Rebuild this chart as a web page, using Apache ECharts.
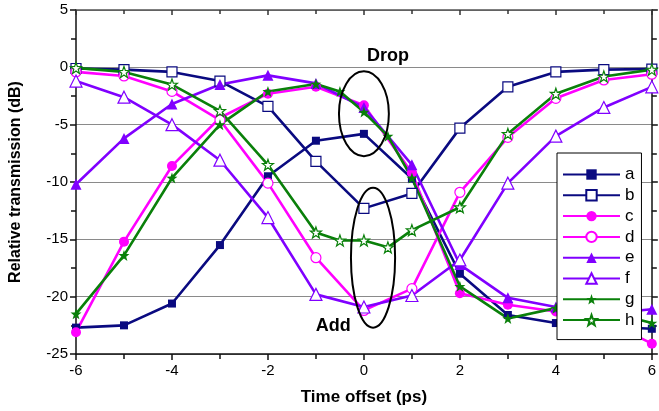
<!DOCTYPE html>
<html>
<head>
<meta charset="utf-8">
<script src="https://cdn.jsdelivr.net/npm/echarts@6/dist/echarts.min.js"></script>
<style>html,body{margin:0;padding:0;background:#fff}#c{width:659px;height:411px}</style>
</head>
<body>
<div id="c"></div>
<script>
// ---- data ----
var xs = [-6, -5, -4, -3, -2, -1, 0, 1, 2, 3, 4, 5, 6];
var xsFine = [-6, -5, -4, -3, -2, -1, -0.5, 0, 0.5, 1, 2, 3, 4, 5, 6];
var seriesNames = ['a', 'b', 'c', 'd', 'e', 'f', 'g', 'h'];
var aVals = [-22.7, -22.5, -20.6, -15.5, -9.5, -6.4, -5.8, -9.7, -18.0, -21.6, -22.3, -22.6, -22.8];
var bVals = [-0.1, -0.2, -0.4, -1.2, -3.4, -8.2, -12.3, -11.0, -5.3, -1.7, -0.4, -0.2, -0.15];
var cVals = [-23.1, -15.2, -8.6, -4.4, -2.3, -1.7, -3.3, -9.2, -19.7, -20.7, -21.3, -22.0, -24.1];
var dVals = [-0.4, -0.75, -2.1, -4.6, -10.1, -16.6, -21.2, -19.3, -10.9, -6.1, -2.7, -1.1, -0.6];
var eVals = [-10.2, -6.2, -3.2, -1.5, -0.7, -1.4, -3.5, -8.5, -17.2, -20.1, -20.9, -21.5, -21.1];
var fVals = [-1.2, -2.6, -5.0, -8.1, -13.1, -19.8, -20.9, -19.9, -16.8, -10.1, -6.0, -3.5, -1.7];
var gVals = [-21.5, -16.4, -9.65, -5.0, -2.1, -1.45, -2.1, -3.9, -6.0, -9.65, -19.1, -21.9, -21.0, -21.2, -22.3];
var hVals = [-0.05, -0.4, -1.5, -3.8, -8.5, -14.4, -15.1, -15.1, -15.7, -14.2, -12.2, -5.8, -2.3, -0.8, -0.2];
var xTicks = [-6, -4, -2, 0, 2, 4, 6];
var yTicks = [5, 0, -5, -10, -15, -20, -25];
var annotations = [
  {text: 'Drop', x: 0.5, y: 1.0},
  {text: 'Add', x: -0.64, y: -22.6}
];
var ellipses = [
  {x: 0, y: -4.05, rx: 0.52, ry: 3.7},
  {x: 0.19, y: -16.6, rx: 0.46, ry: 6.1}
];

// ---- styling ----
var NAVY = '#0a0a80', MAG = '#ff00ff', PUR = '#8000ff', GRN = '#0a800a';
var STAR = 'path://M0,-10L2.35,-3.24L9.51,-3.09L3.8,1.24L5.88,8.09L0,4L-5.88,8.09L-3.8,1.24L-9.51,-3.09L-2.35,-3.24Z';
var FONT = 'Liberation Sans, Arial, sans-serif';

function pairs(x, y) { return x.map(function (v, i) { return [v, y[i]]; }); }
function mk(name, x, y, color, symbol, size, open) {
  return {
    name: name, type: 'line', data: pairs(x, y),
    symbol: symbol, symbolSize: size, showSymbol: true,
    lineStyle: {color: color, width: 2.6},
    itemStyle: open ? {color: '#ffffff', borderColor: color, borderWidth: 1.2} : {color: color, borderColor: color, borderWidth: 0},
    emphasis: {disabled: true},
    animation: false
  };
}

var chart = echarts.init(document.getElementById('c'), null, {renderer: 'canvas'});
var tickLabelStyle = {color: '#000', fontSize: 15, fontFamily: FONT};
var option = {
  backgroundColor: '#fff',
  animation: false,
  grid: {left: 75, right: 2, top: 10, bottom: 57},
  legend: {
    orient: 'vertical', left: 557, top: 153,
    data: seriesNames,
    itemWidth: 57, itemHeight: 13, itemGap: 3.8,
    padding: [13, 7, 11, 5],
    borderColor: '#000', borderWidth: 1, backgroundColor: '#fff',
    textStyle: {color: '#000', fontSize: 17, fontFamily: FONT},
    z: 10
  },
  xAxis: [{
    type: 'value', min: -6, max: 6, interval: 2, position: 'bottom',
    name: 'Time offset (ps)', nameLocation: 'middle', nameGap: 35,
    nameTextStyle: {color: '#000', fontSize: 17, fontWeight: 'bold', fontFamily: FONT},
    axisLine: {show: true, onZero: false, lineStyle: {color: '#111', width: 1.5}},
    axisTick: {show: true, inside: false, length: 6, lineStyle: {color: '#111', width: 1.5}},
    minorTick: {show: true, splitNumber: 2, length: 5, lineStyle: {color: '#111', width: 1.5}},
    axisLabel: Object.assign({margin: 9, formatter: function (v) { return xTicks.indexOf(v) >= 0 ? String(v) : ''; }}, tickLabelStyle),
    splitLine: {show: false}
  }, {
    type: 'value', min: -6, max: 6, interval: 2, position: 'top',
    axisLine: {show: true, onZero: false, lineStyle: {color: '#555', width: 1.5}},
    axisTick: {show: true, inside: true, length: 5, lineStyle: {color: '#333', width: 1.5}},
    minorTick: {show: true, splitNumber: 2, length: 4, lineStyle: {color: '#333', width: 1.5}},
    axisLabel: {show: false}, splitLine: {show: false}
  }],
  yAxis: [{
    type: 'value', min: -25, max: 5, interval: 5, position: 'left',
    name: 'Relative transmission (dB)', nameLocation: 'middle', nameGap: 52, nameRotate: 90,
    nameTextStyle: {color: '#000', fontSize: 16, fontWeight: 'bold', fontFamily: FONT},
    axisLine: {show: true, onZero: false, lineStyle: {color: '#111', width: 1.5}},
    axisTick: {show: true, inside: false, length: 6, lineStyle: {color: '#111', width: 1.5}},
    minorTick: {show: true, splitNumber: 2, length: 5, lineStyle: {color: '#111', width: 1.5}},
    axisLabel: Object.assign({margin: 8, formatter: function (v) { return yTicks.indexOf(v) >= 0 ? String(v) : ''; }}, tickLabelStyle),
    splitLine: {show: true, lineStyle: {color: '#8a8a8a', width: 1.2}}
  }, {
    type: 'value', min: -25, max: 5, interval: 5, position: 'right',
    axisLine: {show: true, onZero: false, lineStyle: {color: '#111', width: 1.5}},
    axisTick: {show: true, inside: false, length: 6, lineStyle: {color: '#111', width: 1.5}},
    minorTick: {show: true, splitNumber: 2, length: 5, lineStyle: {color: '#111', width: 1.5}},
    axisLabel: {show: false}, splitLine: {show: false}
  }],
  series: [
    mk('a', xs, aVals, NAVY, 'rect', 8, false),
    mk('b', xs, bVals, NAVY, 'rect', 10, true),
    mk('c', xs, cVals, MAG, 'circle', 10, false),
    mk('d', xs, dVals, MAG, 'circle', 10, true),
    mk('e', xs, eVals, PUR, 'triangle', 11, false),
    mk('f', xs, fVals, PUR, 'triangle', 12, true),
    mk('g', xsFine, gVals, GRN, STAR, 11, false),
    mk('h', xsFine, hVals, GRN, STAR, 11, true)
  ]
};
chart.setOption(option);

// annotations positioned via axis scales
var graphics = [];
ellipses.forEach(function (e) {
  var c = chart.convertToPixel({gridIndex: 0}, [e.x, e.y]);
  var p = chart.convertToPixel({gridIndex: 0}, [e.x + e.rx, e.y + e.ry]);
  graphics.push({
    type: 'ellipse', z: 20,
    shape: {cx: c[0], cy: c[1], rx: Math.abs(p[0] - c[0]), ry: Math.abs(p[1] - c[1])},
    style: {fill: 'none', stroke: '#000', lineWidth: 2}
  });
});
annotations.forEach(function (a) {
  var c = chart.convertToPixel({gridIndex: 0}, [a.x, a.y]);
  graphics.push({
    type: 'text', z: 20, x: c[0], y: c[1],
    style: {text: a.text, fill: '#000', font: 'bold 18px ' + FONT, textAlign: 'center', textVerticalAlign: 'middle'}
  });
});
chart.setOption({graphic: graphics});
</script>
</body>
</html>
